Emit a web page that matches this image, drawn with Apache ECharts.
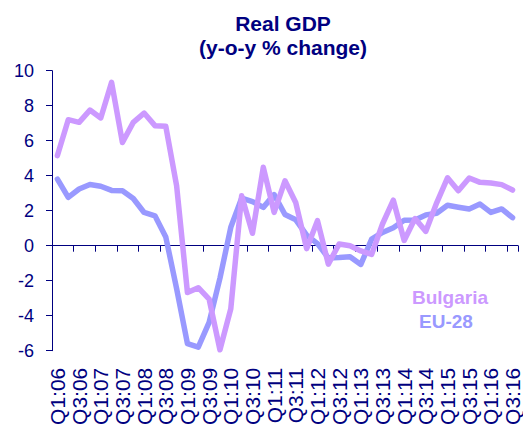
<!DOCTYPE html>
<html>
<head>
<meta charset="utf-8">
<script src="https://cdn.jsdelivr.net/npm/echarts@6/dist/echarts.min.js"></script>
<style>
html,body{margin:0;padding:0;background:#fff;}
#chart{width:523px;height:431px;}
</style>
</head>
<body>
<div id="chart"></div>
<script>
const categories = ['Q1:06','Q2:06','Q3:06','Q4:06','Q1:07','Q2:07','Q3:07','Q4:07',
  'Q1:08','Q2:08','Q3:08','Q4:08','Q1:09','Q2:09','Q3:09','Q4:09',
  'Q1:10','Q2:10','Q3:10','Q4:10','Q1:11','Q2:11','Q3:11','Q4:11',
  'Q1:12','Q2:12','Q3:12','Q4:12','Q1:13','Q2:13','Q3:13','Q4:13',
  'Q1:14','Q2:14','Q3:14','Q4:14','Q1:15','Q2:15','Q3:15','Q4:15',
  'Q1:16','Q2:16','Q3:16'];
const bulgaria = [5.15, 7.2, 7.05, 7.75, 7.3, 9.33, 5.9, 7.05, 7.58, 6.86, 6.83, 3.43,
  -2.68, -2.4, -3.05, -5.95, -3.6, 2.85, 0.71, 4.48, 1.9, 3.71, 2.45, -0.17,
  1.43, -1.05, 0.1, 0.0, -0.3, -0.5, 1.24, 2.6, 0.3, 1.55, 0.82, 2.45,
  3.88, 3.14, 3.87, 3.62, 3.58, 3.49, 3.18];
const eu28 = [3.81, 2.76, 3.24, 3.5, 3.4, 3.16, 3.14, 2.7, 1.9, 1.71, 0.5, -2.45,
  -5.6, -5.8, -4.38, -1.85, 1.05, 2.72, 2.52, 2.19, 2.92, 1.78, 1.48, 0.6,
  0.12, -0.7, -0.68, -0.63, -1.07, 0.38, 0.76, 1.03, 1.45, 1.47, 1.76, 1.85,
  2.31, 2.2, 2.1, 2.38, 1.9, 2.1, 1.6];
const yTicks = {min: -6, max: 10, interval: 2};
const titleText = 'Real GDP\n(y-o-y % change)';
const seriesNames = ['Bulgaria', 'EU-28'];

const NAVY = '#000080';
const FONT = '"Liberation Sans", Arial, sans-serif';
const PINK = '#CC99FF';
const BLUE = '#9999FF';

const chart = echarts.init(document.getElementById('chart'), null, {renderer: 'svg'});
chart.setOption({
  animation: false,
  backgroundColor: '#fff',
  title: {
    text: titleText,
    left: 278,
    top: 6,
    textAlign: 'center',
    textStyle: {fontFamily: FONT, fontSize: 21, fontWeight: 'bold', color: NAVY, lineHeight: 24}
  },
  legend: [
    {
      data: [{name: seriesNames[0], textStyle: {color: PINK}}],
      left: 402, top: 283, icon: 'none', itemWidth: 0, itemHeight: 10, selectedMode: false,
      textStyle: {fontFamily: FONT, fontSize: 19, fontWeight: 'bold'}
    },
    {
      data: [{name: seriesNames[1], textStyle: {color: BLUE}}],
      left: 409, top: 307, icon: 'none', itemWidth: 0, itemHeight: 10, selectedMode: false,
      textStyle: {fontFamily: FONT, fontSize: 19, fontWeight: 'bold'}
    }
  ],
  grid: {left: 52, right: 2, top: 70.7, bottom: 80.3, containLabel: false},
  xAxis: [
    {
      type: 'category', data: categories, position: 'bottom', boundaryGap: true,
      axisLine: {show: false, onZero: false},
      axisTick: {show: false},
      axisLabel: {interval: 1, rotate: 90, margin: 17, fontFamily: FONT, fontSize: 21, color: NAVY},
      splitLine: {show: false}
    },
    {
      type: 'category', data: categories, position: 'bottom', boundaryGap: true,
      axisLine: {show: true, onZero: true, lineStyle: {color: NAVY, width: 1}},
      axisTick: {show: true, interval: 1, length: 6, lineStyle: {color: NAVY, width: 1}},
      axisLabel: {show: false},
      splitLine: {show: false}
    }
  ],
  yAxis: {
    type: 'value', min: yTicks.min, max: yTicks.max, interval: yTicks.interval,
    axisLine: {show: true, onZero: false, lineStyle: {color: NAVY, width: 1}},
    axisTick: {show: true, length: 6, lineStyle: {color: NAVY, width: 1}},
    axisLabel: {margin: 18, fontFamily: FONT, fontSize: 18, color: NAVY},
    splitLine: {show: false}
  },
  series: [
    {
      name: seriesNames[1], type: 'line', data: eu28, xAxisIndex: 0,
      showSymbol: false, symbol: 'none', color: BLUE,
      lineStyle: {width: 5.5, color: BLUE, cap: 'round', join: 'round'}
    },
    {
      name: seriesNames[0], type: 'line', data: bulgaria, xAxisIndex: 0,
      showSymbol: false, symbol: 'none', color: PINK,
      lineStyle: {width: 5.5, color: PINK, cap: 'round', join: 'round'}
    }
  ]
});
</script>
</body>
</html>
